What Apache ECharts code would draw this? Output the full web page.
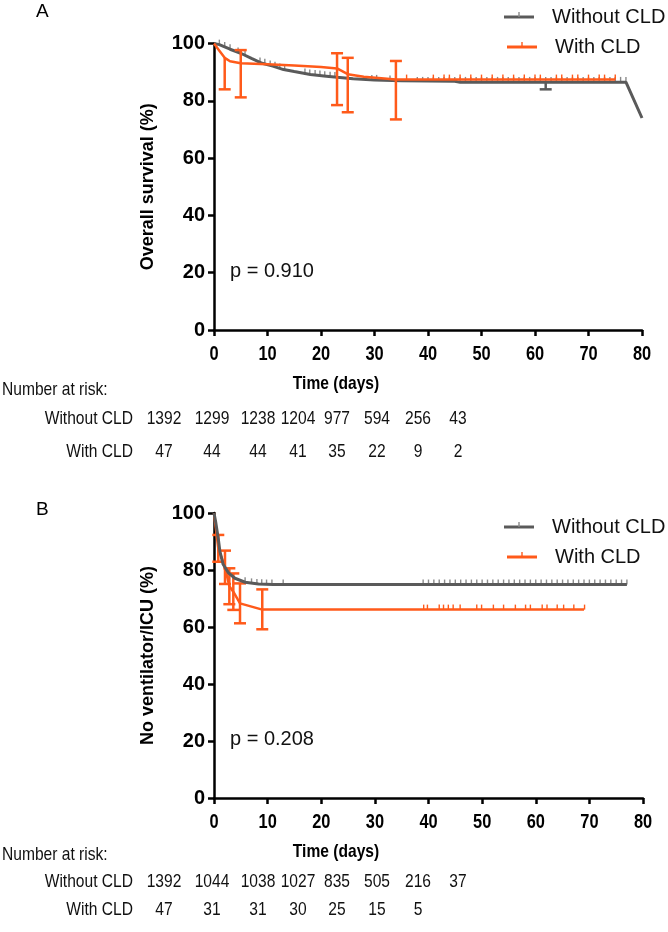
<!DOCTYPE html>
<html><head><meta charset="utf-8">
<script src="https://cdn.jsdelivr.net/npm/echarts@6/dist/echarts.min.js"></script>
<style>html,body{margin:0;padding:0;background:#fff}#c{width:668px;height:932px}</style>
</head><body><div id="c"></div>
<script>
// ---------------- DATA ----------------
var xTicks = [0, 10, 20, 30, 40, 50, 60, 70, 80];
var seriesNames = ['Without CLD', 'With CLD'];
var pValueA = 'p = 0.910';
var pValueB = 'p = 0.208';
var yTitleA = 'Overall survival (%)';
var yTitleB = 'No ventilator/ICU (%)';

// Panel A: overall survival
var grayA = [[0,100],[1,99.6],[2,98.8],[3,98],[5,96.6],[7,94.8],[9,93.1],[11,92.1],[13,90.9],[15,90.2],[18,89.2],[21,88.6],[23,88.2],[26,87.7],[30,87.3],[35,87],[45,86.8],[46,86.5],[62,86.5],[77,86.5],[80,74]];
var orangeA = [[0,100],[1,97.5],[2,95],[3,93.8],[5,93.1],[10,92.8],[15,92.3],[20,91.8],[23,91.3],[25,89.3],[28,88.4],[34,87.4],[40,87.4],[75,87.4]];
var orangeErrA = [[2,84,95,0],[5,81.2,97.7,1],[23,78.5,96.6,1],[25,76,95,1],[34,73.5,93.9,1]];
var grayErrA = [[62,84,86.5,0]];
var grayCensorA = [[1,99.6],[2,98.8],[3,98],[4.5,96.9],[5.8,96],[8.6,93.4],[9.5,92.9],[10.5,92.3],[11.4,91.9],[12.3,91.3],[13.2,90.9],[17,89.5],[17.9,89.2],[18.9,89],[19.8,88.8],[20.7,88.6],[21.7,88.4],[22.6,88.3],[29.5,87.3],[30.4,87.3],[32.9,87.1]];
var grayCensorALateDays = [38,39,40,41,42,43,44,45,46,47,48,49,50,51,52,53,54,55,56,57,58,59,60,61,62,63,64,65,66,67,68,69,70,71,72,73,74,75,76,77];
var grayCensorALateValue = 86.6;
var orangeCensorADays = [36,41,43,44,46,48,50,52,54,56,58,60,61,64,65,67,68,70,72,73,75];
var orangeCensorAValue = 87.4;
var riskA_without = ['1392','1299','1238','1204','977','594','256','43'];
var riskA_with = ['47','44','44','41','35','22','9','2'];

// Panel B: no ventilator / ICU
var grayB = [[0,100],[0.3,97],[0.8,91],[1.1,86.5],[1.7,82],[2.7,79],[3.9,77.1],[5.8,75.7],[8.3,75.1],[11,74.9],[77,74.9]];
var orangeB = [[0,100],[0.8,87.6],[2.05,81],[2.86,74.3],[3.6,72.4],[4.85,68.3],[9,66.1],[69,66.1]];
var orangeErrB = [[0.8,82.9,92.3,1],[2.05,75.1,86.8,1],[2.86,68,80.6,1],[3.6,66,78.8,1],[4.85,61.3,75.3,1],[9,59.2,73.2,1]];
var grayCensorB = [[5.8,75.7],[7,75.3],[8,75.1],[8.9,75],[9.8,74.9],[10.8,74.9],[12.9,74.9]];
var grayCensorBLateDays = [39,40,41,42,43,44,45,46,47,48,49,50,51,52,53,54,55,56,57,58,59,60,61,62,63,64,65,66,67,68,69,70,71,72,73,74,75,76,77];
var grayCensorBLateValue = 74.9;
var orangeCensorBDays = [39.1,39.8,42,42.8,43.7,44.6,45.9,49,49.9,52.1,54,56.2,58.1,59,61.2,62.1,64,65.2,67.1,69.1];
var orangeCensorBValue = 66.1;
var riskB_without = ['1392','1044','1038','1027','835','505','216','37'];
var riskB_with = ['47','31','31','30','25','15','5'];

// ---------------- STYLE / LAYOUT ----------------
var GRAY = '#5a5a5a', GRAY_T = '#8a8a8a', ORANGE = '#ff5a1a';
var SANS = "'Liberation Sans', Arial, sans-serif";
var NX = 0.82; // horizontal condensing of the lower texts
var riskCols = [164, 212, 258, 298, 337, 377, 418, 458];

function pairs(days, v) { return days.map(function (d) { return [d, v]; }); }

function censorItem(color) {
  return function (params, api) {
    var p = api.coord([api.value(0), api.value(1)]);
    return { type: 'line', shape: { x1: p[0], y1: p[1], x2: p[0], y2: p[1] - 5 },
      style: { stroke: color, lineWidth: 1.4 } };
  };
}
function errItem(color) {
  return function (params, api) {
    var x = api.value(0), lo = api.value(1), hi = api.value(2), top = api.value(3);
    var pl = api.coord([x, lo]), ph = api.coord([x, hi]);
    var st = { stroke: color, lineWidth: 2.5 };
    var ch = [
      { type: 'line', shape: { x1: pl[0], y1: pl[1], x2: ph[0], y2: ph[1] }, style: st },
      { type: 'line', shape: { x1: pl[0] - 6, y1: pl[1], x2: pl[0] + 6, y2: pl[1] }, style: st }
    ];
    if (top) ch.push({ type: 'line', shape: { x1: ph[0] - 6, y1: ph[1], x2: ph[0] + 6, y2: ph[1] }, style: st });
    return { type: 'group', children: ch };
  };
}

function xAxisCfg(gi) {
  return {
    type: 'value', gridIndex: gi, min: 0, max: 80, interval: 10,
    axisLine: { show: true, onZero: false, lineStyle: { color: '#000', width: 2.5 } },
    axisTick: { show: true, length: 6, lineStyle: { color: '#000', width: 2.5 } },
    splitLine: { show: false },
    axisLabel: { show: false }
  };
}
function yAxisCfg(gi, name) {
  return {
    type: 'value', gridIndex: gi, min: 0, max: 100, interval: 20,
    name: name, nameLocation: 'middle', nameGap: 57,
    nameTextStyle: { color: '#000', fontWeight: 'bold', fontSize: 18, fontFamily: SANS },
    axisLine: { show: true, onZero: false, lineStyle: { color: '#000', width: 2.5 } },
    axisTick: { show: true, length: 6, lineStyle: { color: '#000', width: 2.5 } },
    splitLine: { show: false },
    axisLabel: { margin: 9, color: '#000', fontWeight: 'bold', fontSize: 20, fontFamily: SANS }
  };
}
function lineSeries(data, color, w, xi, z) {
  return { type: 'line', xAxisIndex: xi, yAxisIndex: xi, data: data, showSymbol: false, symbol: 'none',
    lineStyle: { color: color, width: w }, z: z, animation: false, clip: false };
}
function customSeries(data, fn, xi, z, isErr) {
  return { type: 'custom', xAxisIndex: xi, yAxisIndex: xi, data: data, renderItem: fn, z: z,
    encode: isErr ? { x: 0, y: [1, 2] } : { x: 0, y: 1 }, animation: false, clip: false };
}

function txt(t, x, y, font, align, color, sx) {
  return { type: 'text', x: x, y: y, scaleX: sx || 1, silent: true,
    style: { text: t, font: font, fill: color || '#000', textAlign: align || 'left', textVerticalAlign: 'middle',
      align: align || 'left', verticalAlign: 'middle' } };
}
function hline(x1, x2, y, color, w) {
  return { type: 'line', silent: true, shape: { x1: x1, y1: y, x2: x2, y2: y }, style: { stroke: color, lineWidth: w } };
}
function vline(x, y1, y2, color, w) {
  return { type: 'line', silent: true, shape: { x1: x, y1: y1, x2: x, y2: y2 }, style: { stroke: color, lineWidth: w } };
}

var graphics = [];
function panelText(label, labelY, legY1, legY2, pText, pY, timeY, narY, row1Y, row2Y, rowW, rowWith) {
  var F = '19px ' + SANS;
  graphics.push(txt(label, 36, labelY, '19px ' + SANS, 'left'));
  graphics.push(hline(504, 534, legY1, GRAY, 3));
  graphics.push(vline(519, legY1, legY1 - 5, GRAY_T, 1.4));
  graphics.push(txt(seriesNames[0], 552, legY1, '20px ' + SANS, 'left', '#111'));
  graphics.push(hline(507, 537, legY2, ORANGE, 3));
  graphics.push(vline(522, legY2, legY2 - 5, ORANGE, 1.4));
  graphics.push(txt(seriesNames[1], 555, legY2, '20px ' + SANS, 'left', '#111'));
  graphics.push(txt(pText, 230, pY, '20px ' + SANS, 'left', '#111'));
  graphics.push(txt('Time (days)', 336, timeY, 'bold 19px ' + SANS, 'center', '#000', NX));
  graphics.push(txt('Number at risk:', 2, narY, F, 'left', '#111', NX));
  graphics.push(txt(seriesNames[0], 133, row1Y, F, 'right', '#111', NX));
  graphics.push(txt(seriesNames[1], 133, row2Y, F, 'right', '#111', NX));
  rowW.forEach(function (v, i) { graphics.push(txt(v, riskCols[i], row1Y, F, 'center', '#111', NX)); });
  rowWith.forEach(function (v, i) { graphics.push(txt(v, riskCols[i], row2Y, F, 'center', '#111', NX)); });
}
panelText('A', 12, 17, 47, pValueA, 271, 384, 390, 418.5, 451.5, riskA_without, riskA_with);
panelText('B', 510, 527, 557, pValueB, 739, 852, 854.5, 881.5, 909.5, riskB_without, riskB_with);

var option = {
  backgroundColor: '#fff',
  animation: false,
  grid: [
    { left: 214, top: 43.5, width: 428, height: 286.5 },
    { left: 214, top: 513, width: 429, height: 285 }
  ],
  xAxis: [xAxisCfg(0), xAxisCfg(1)],
  yAxis: [yAxisCfg(0, yTitleA), yAxisCfg(1, yTitleB)],
  graphic: graphics,
  series: [
    customSeries(grayCensorA.concat(pairs(grayCensorALateDays, grayCensorALateValue)), censorItem(GRAY_T), 0, 2),
    lineSeries(grayA, GRAY, 3, 0, 3),
    customSeries(grayErrA, errItem(GRAY), 0, 3, true),
    customSeries(pairs(orangeCensorADays, orangeCensorAValue), censorItem(ORANGE), 0, 4),
    lineSeries(orangeA, ORANGE, 2.5, 0, 4),
    customSeries(orangeErrA, errItem(ORANGE), 0, 5, true),

    customSeries(grayCensorB.concat(pairs(grayCensorBLateDays, grayCensorBLateValue)), censorItem(GRAY_T), 1, 2),
    lineSeries(orangeB, ORANGE, 2.5, 1, 3),
    customSeries(pairs(orangeCensorBDays, orangeCensorBValue), censorItem(ORANGE), 1, 3),
    customSeries(orangeErrB, errItem(ORANGE), 1, 4, true),
    lineSeries(grayB, GRAY, 3, 1, 5)
  ]
};
var chart = echarts.init(document.getElementById('c'), null, { renderer: 'canvas' });
chart.setOption(option);

// x-axis tick labels (condensed), placed with the axis' own scale
var tickTexts = [];
[0, 1].forEach(function (gi) {
  var axisY = chart.convertToPixel({ yAxisIndex: gi }, 0);
  xTicks.forEach(function (v) {
    var px = chart.convertToPixel({ xAxisIndex: gi }, v);
    tickTexts.push(txt(String(v), px, axisY + 24.5, 'bold 20.5px ' + SANS, 'center', '#000', 0.8));
  });
});
chart.setOption({ graphic: graphics.concat(tickTexts) }, { replaceMerge: ['graphic'] });
</script></body></html>
